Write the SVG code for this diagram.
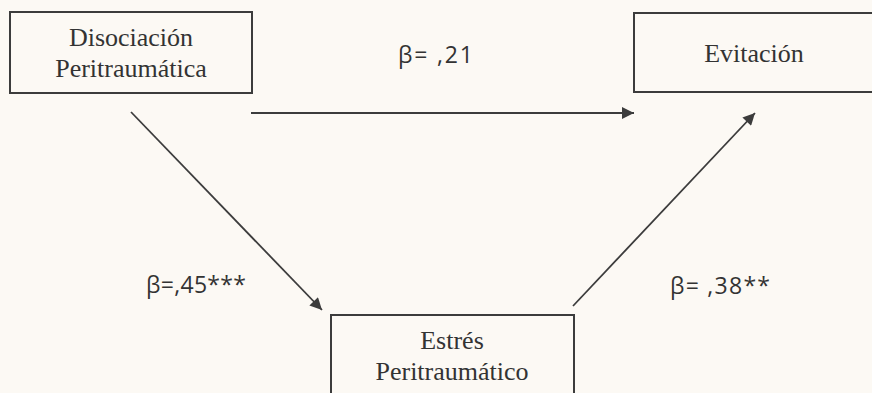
<svg xmlns="http://www.w3.org/2000/svg" width="872" height="393" viewBox="0 0 872 393">
<style>
.box{fill:none;stroke:#3c3c3c;stroke-width:2}
.lbl{font-family:"Liberation Serif","Times New Roman",serif;font-size:26px;fill:#333;text-anchor:middle}
.beta{font-family:"Open Sans","Liberation Sans",sans-serif;font-size:23px;fill:#333}
</style>
<defs>
<marker id="ah2" viewBox="0 0 10 10" refX="10" refY="5" markerWidth="16" markerHeight="12" markerUnits="userSpaceOnUse" orient="auto">
<path d="M0,0 L10,5 L0,10 z" fill="#3c3c3c"/>
</marker>
</defs>
<rect width="872" height="393" fill="#fcf9f4"/>
<g id="edges">
<line x1="251" y1="113" x2="634" y2="113" stroke="#3c3c3c" stroke-width="1.8" marker-end="url(#ah2)"/>
<line x1="131" y1="112" x2="322" y2="310" stroke="#3c3c3c" stroke-width="1.8" marker-end="url(#ah2)"/>
<line x1="573" y1="306" x2="755" y2="113" stroke="#3c3c3c" stroke-width="1.8" marker-end="url(#ah2)"/>
</g>
<g id="labels">
<text class="beta" x="398" y="63" textLength="75" lengthAdjust="spacing">β= ,21</text>
<text class="beta" x="146" y="293" textLength="100" lengthAdjust="spacing">β=,45***</text>
<text class="beta" x="670" y="294" textLength="100" lengthAdjust="spacing">β= ,38**</text>
</g>
<g id="disociacion">
<rect class="box" x="10" y="12" width="242" height="81"/>
<text class="lbl" x="131" y="46">Disociación</text>
<text class="lbl" x="131" y="77">Peritraumática</text>
</g>
<g id="evitacion">
<rect class="box" x="634" y="13" width="250" height="79"/>
<text class="lbl" x="754" y="62">Evitación</text>
</g>
<g id="estres">
<rect class="box" x="331" y="315" width="243" height="90"/>
<text class="lbl" x="452" y="349">Estrés</text>
<text class="lbl" x="452" y="380">Peritraumático</text>
</g>
</svg>
